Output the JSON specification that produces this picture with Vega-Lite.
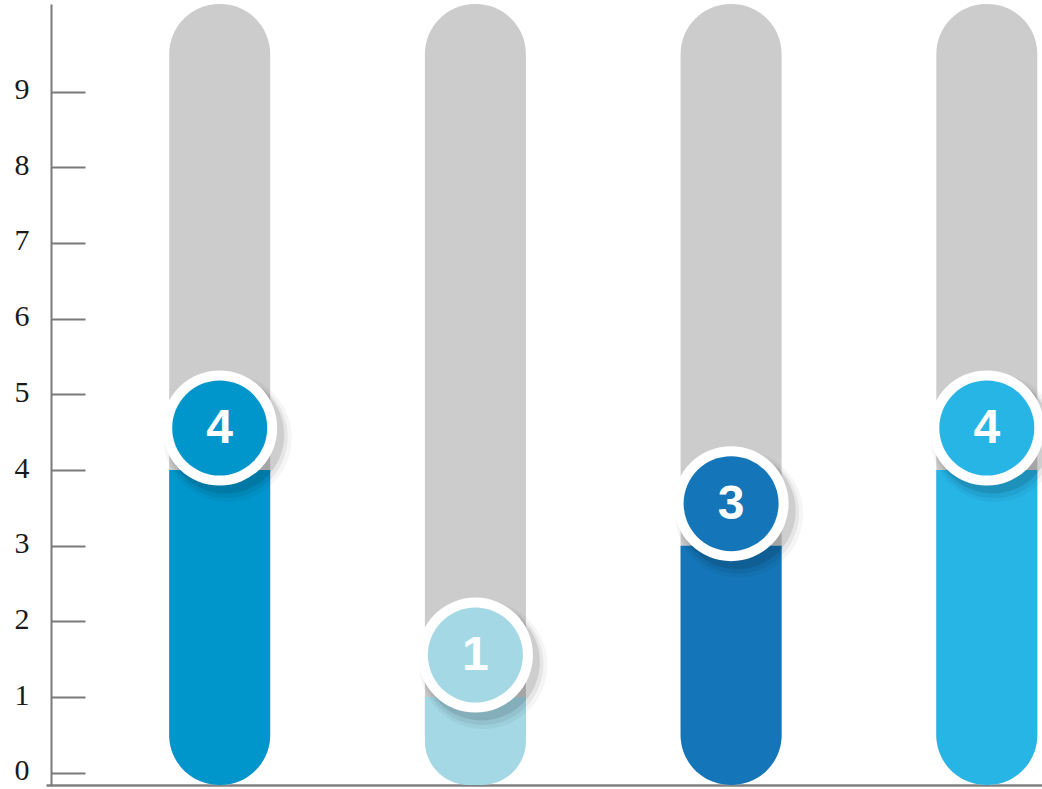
{
  "$schema": "https://vega.github.io/schema/vega-lite/v6.json",
  "width": 991,
  "height": 781,
  "autosize": {"type": "none"},
  "padding": {"left": 51, "top": 4, "right": 0, "bottom": 4},
  "background": "white",
  "config": {"view": {"stroke": null}},
  "data": {"values": [
    {"item": "A", "value": 4},
    {"item": "B", "value": 1},
    {"item": "C", "value": 3},
    {"item": "D", "value": 4}
  ]},
  "encoding": {
    "x": {
      "field": "item", "type": "nominal",
      "scale": {"range": [-5, 1109.5], "paddingInner": 0, "paddingOuter": 0.1793},
      "axis": {"labels": false, "ticks": false, "title": null, "domainColor": "#808080", "domainWidth": 2.5}
    }
  },
  "layer": [
    {
      "mark": {"type": "bar", "width": 101, "color": "#cccccc", "cornerRadius": 50},
      "encoding": {
        "y": {
          "datum": 10.158, "type": "quantitative",
          "scale": {"domain": [-0.1625, 10.158], "nice": false, "zero": false},
          "axis": {
            "values": [0, 1, 2, 3, 4, 5, 6, 7, 8, 9], "format": "d",
            "title": null, "grid": false,
            "domainColor": "#7a7a7a", "domainWidth": 2,
            "tickColor": "#7a7a7a", "tickWidth": 2, "tickSize": -34,
            "labelPadding": 56, "labelOffset": -2, "labelFont": "Liberation Serif", "labelFontSize": 30,
            "labelColor": "#1a1a1a"
          }
        },
        "y2": {"datum": -0.1625}
      }
    },
    {
      "mark": {"type": "bar", "width": 101, "cornerRadiusBottomLeft": 50, "cornerRadiusBottomRight": 50},
      "encoding": {
        "y": {"field": "value", "type": "quantitative"},
        "y2": {"datum": -0.1625},
        "color": {"field": "item", "type": "nominal", "scale": {"domain": ["A", "B", "C", "D"], "range": ["#0096cb", "#a4d8e4", "#1476b8", "#27b5e6"]}, "legend": null}
      }
    },
    {
      "mark": {"type": "point", "filled": true, "color": "#000000", "opacity": 0.04, "size": 16400, "xOffset": 8, "yOffset": -32},
      "encoding": {"y": {"field": "value", "type": "quantitative"}}
    },
    {
      "mark": {"type": "point", "filled": true, "color": "#000000", "opacity": 0.06, "size": 14900, "xOffset": 7, "yOffset": -33},
      "encoding": {"y": {"field": "value", "type": "quantitative"}}
    },
    {
      "mark": {"type": "point", "filled": true, "color": "#000000", "opacity": 0.1, "size": 13700, "xOffset": 6, "yOffset": -35},
      "encoding": {"y": {"field": "value", "type": "quantitative"}}
    },
    {
      "mark": {"type": "point", "filled": true, "color": "#ffffff", "opacity": 1, "size": 13225, "yOffset": -42},
      "encoding": {"y": {"field": "value", "type": "quantitative"}}
    },
    {
      "mark": {"type": "point", "filled": true, "opacity": 1, "size": 9025, "yOffset": -42},
      "encoding": {
        "y": {"field": "value", "type": "quantitative"},
        "color": {"field": "item", "type": "nominal", "legend": null}
      }
    },
    {
      "mark": {"type": "text", "color": "#ffffff", "font": "Liberation Sans", "fontWeight": "bold", "fontSize": 48, "baseline": "middle", "align": "center", "yOffset": -41},
      "encoding": {
        "y": {"field": "value", "type": "quantitative"},
        "text": {"field": "value", "type": "quantitative"}
      }
    }
  ]
}
